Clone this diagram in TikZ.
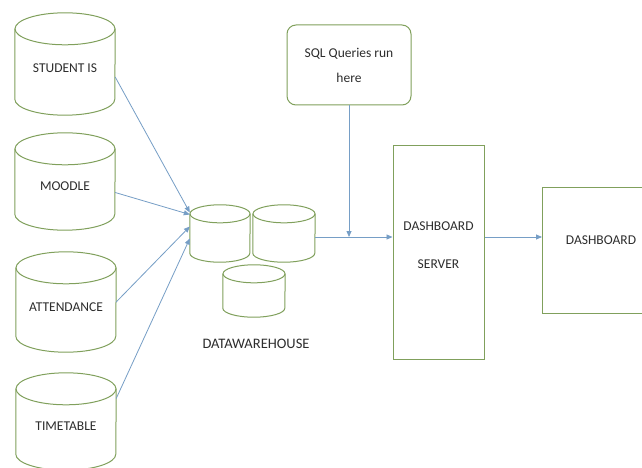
\documentclass[tikz,border=0pt]{standalone}
\usepackage{fontspec}
\setmainfont{Carlito}
\usetikzlibrary{arrows.meta,calc}
\definecolor{boxgreen}{RGB}{128,160,92}
\definecolor{flowblue}{RGB}{118,158,198}
\definecolor{inkgray}{RGB}{45,45,45}
% cylinder outline round a named node: node, half width, cap radius
\newcommand{\cyl}[3]{%
  \draw[dbline] ([yshift=-#3]#1.north west) -- ([yshift=#3]#1.south west)
    arc[start angle=180, end angle=360, x radius=#2, y radius=#3]
    -- ([yshift=-#3]#1.north east);
  \draw[dbline] ([yshift=-#3]#1.north) ellipse[x radius=#2, y radius=#3];}
\tikzset{
  dbline/.style={draw=boxgreen, line width=1pt},
  dbnode/.style={inner sep=0pt, text=inkgray, text height=20pt, text depth=2pt},
  plainbox/.style={draw=boxgreen, line width=1pt, text=inkgray, align=center},
  flow/.style={draw=flowblue, line width=0.8pt, -{Triangle[width=5pt,length=6pt]}}
}
\begin{document}
\begin{tikzpicture}[x=1pt,y=-1pt,font=\fontsize{13.5}{16}\selectfont]
\useasboundingbox (0,0) rectangle (642,468);
\clip (0,0) rectangle (642,468);
\fill[white] (0,0) rectangle (642,468);
% sources
\node[dbnode, minimum width=100pt, minimum height=102pt] (student) at (65,64) {STUDENT IS};
\node[dbnode, minimum width=100pt, minimum height=97pt] (moodle) at (65,181.5) {MOODLE};
\node[dbnode, minimum width=100pt, minimum height=100pt] (attend) at (66,302) {ATTENDANCE};
\node[dbnode, minimum width=100pt, minimum height=97pt] (timetable) at (66,421.5) {TIMETABLE};
\cyl{student}{50pt}{16pt}
\cyl{moodle}{50pt}{16pt}
\cyl{attend}{50pt}{16pt}
\cyl{timetable}{50pt}{16pt}
% warehouse
\node[dbnode, minimum width=60pt, minimum height=57pt] (dw1) at (220,233.5) {};
\node[dbnode, minimum width=62pt, minimum height=57pt] (dw2) at (284,233.5) {};
\node[dbnode, minimum width=62pt, minimum height=52pt] (dw3) at (254,291) {};
\cyl{dw1}{30pt}{9pt}
\cyl{dw2}{31pt}{9pt}
\cyl{dw3}{31pt}{9pt}
\node[text=inkgray, font=\fontsize{14.5}{17}\selectfont] (dwlabel) at (256,344) {DATAWAREHOUSE};
% right side
\node[plainbox, rounded corners=9pt, minimum width=124pt, minimum height=80pt] (sql) at (349,65)
  {SQL Queries run\\[9pt]here};
\node[plainbox, minimum width=91pt, minimum height=214pt,
  label={[align=center, text=inkgray, yshift=7pt]center:DASHBOARD\\[22pt]SERVER}]
  (server) at (438.5,252) {};
\node[plainbox, minimum width=117pt, minimum height=126pt, text height=8pt, text depth=20pt]
  (dash) at (601,250) {DASHBOARD};
\coordinate (join) at (sql.south |- 0,237);
% connectors
\draw[flow] ([yshift=-13pt]student.east) -- ([yshift=21pt]dw1.west);
\draw[flow] ([yshift=-11pt]moodle.east) -- ([yshift=19pt]dw1.west);
\draw[flow] (attend.east) -- ([yshift=7pt]dw1.west);
\draw[flow] ([yshift=23pt]timetable.east) -- ([yshift=-5pt]dw1.west);
\draw[flow] (sql.south) -- (join);
\draw[flow] (dw2.east |- join) -- (server.west |- join);
\draw[flow] (server.east |- join) -- (dash.west |- join);
\end{tikzpicture}
\end{document}
